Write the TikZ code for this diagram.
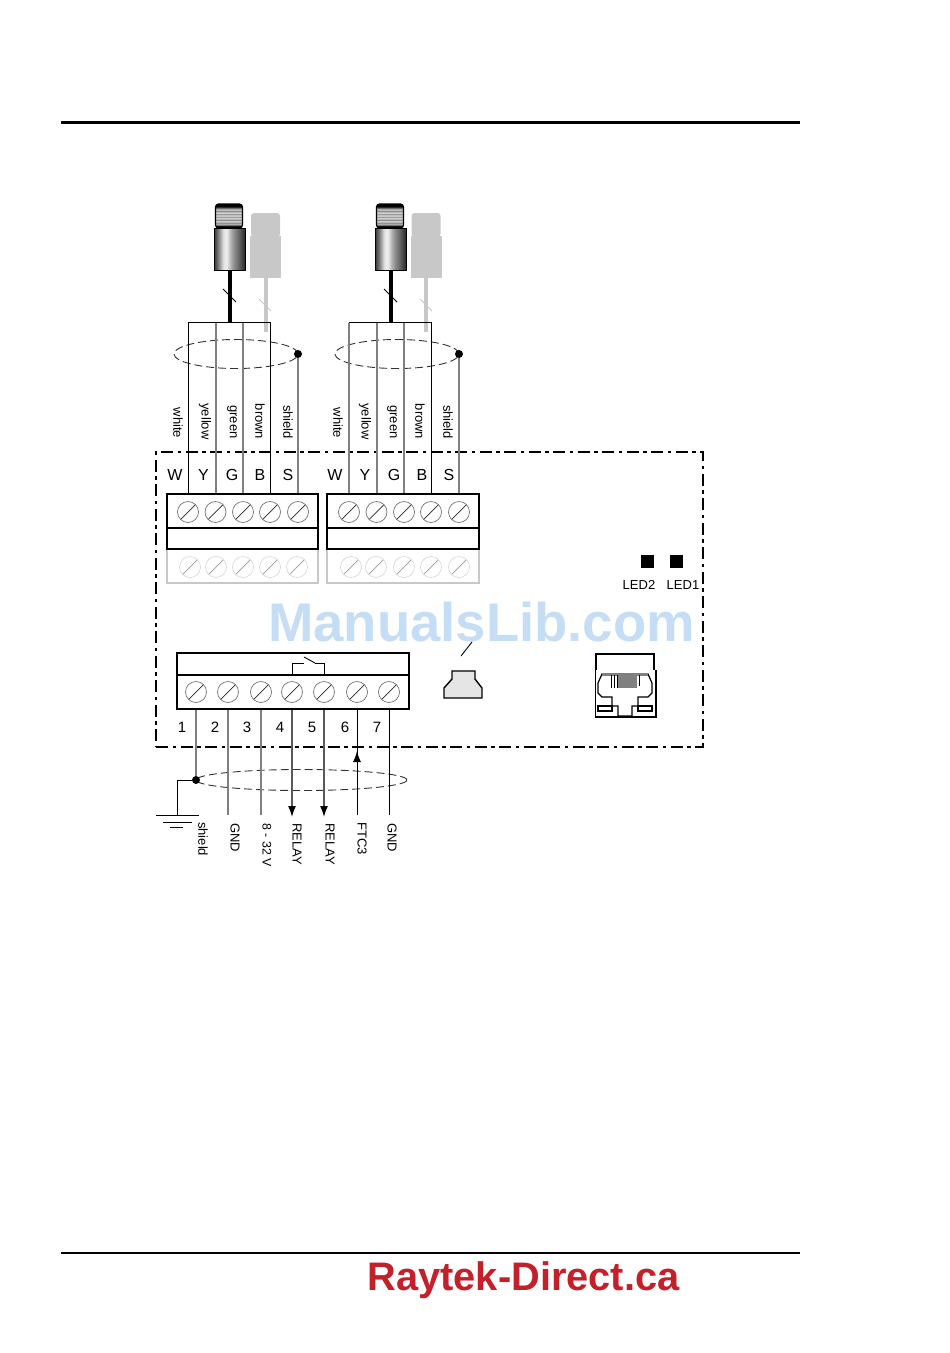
\documentclass[tikz,border=0pt]{standalone}
\usepackage{fontspec}
\setmainfont{Liberation Sans}
\usetikzlibrary{shapes}
\usetikzlibrary{arrows.meta}
\pgfdeclarehorizontalshading{barrel}{50bp}{color(0bp)=(black!90);color(25bp)=(black!80);color(31bp)=(black!55);color(40bp)=(black!12);color(45bp)=(black!6);color(55bp)=(black!40);color(67bp)=(black!65);color(75bp)=(black!85);color(100bp)=(black!90)}
\pgfdeclareverticalshading{thread}{50bp}{color(0bp)=(black);color(29bp)=(black);color(33bp)=(black!20);color(36bp)=(black!50);color(39bp)=(black!8);color(42bp)=(black!50);color(45bp)=(black!8);color(48bp)=(black!50);color(51bp)=(black!8);color(54bp)=(black!50);color(57bp)=(black!8);color(60bp)=(black!50);color(63bp)=(black!15);color(66bp)=(black!50);color(70bp)=(black);color(100bp)=(black)}
\definecolor{ghost}{HTML}{C8C8C8}
\definecolor{wmark}{HTML}{C6DDF6}
\definecolor{brand}{HTML}{C4202A}
\tikzset{
    wireg/.style = {line width=2pt,draw=black!50},
    wirek/.style = {line width=1pt,draw=black},
    wirer/.style = {line width=1.5pt,draw=black!65,-{Latex[length=11pt,width=8pt,black]}},
    cablen/.style = {line width=4pt,draw=black},
    cablel/.style = {line width=4pt,draw=ghost},
    tickn/.style = {line width=1pt,draw=black},
    tickl/.style = {line width=1pt,draw=ghost},
    capn/.style = {rectangle,rounded corners=3pt,draw=black,line width=1.2pt,shading=thread,minimum width=27pt,minimum height=24pt,inner sep=0pt},
    bodyn/.style = {rectangle,draw=black,line width=1pt,shading=barrel,minimum width=31pt,minimum height=42pt,inner sep=0pt},
    capl/.style = {rectangle,rounded corners=3pt,fill=ghost,minimum width=29pt,minimum height=24pt,inner sep=0pt},
    bodyl/.style = {rectangle,fill=ghost,minimum width=31pt,minimum height=42pt,inner sep=0pt},
    shieldn/.style = {ellipse,draw=black!80,line width=0.9pt,dash pattern=on 8pt off 4pt,inner sep=0pt},
    dotn/.style = {circle,fill=black,minimum size=8pt,inner sep=0pt},
    blockn/.style = {rectangle,draw=black,line width=1.8pt,inner sep=0pt},
    blockl/.style = {rectangle,draw=ghost,line width=1.4pt,inner sep=0pt},
    screwn/.style = {circle,draw=black!55,line width=0.7pt,minimum size=21pt,inner sep=0pt,
      path picture={\draw[black!85,line width=0.7pt] (path picture bounding box.south west) -- (path picture bounding box.north east);}},
    screwl/.style = {circle,draw=black!15,line width=0.7pt,minimum size=21pt,inner sep=0pt,
      path picture={\draw[black!40,line width=0.7pt] (path picture bounding box.south west) -- (path picture bounding box.north east);}},
    ledn/.style = {rectangle,fill=black,minimum size=13pt,inner sep=0pt},
    wlabel/.style = {rotate=-90,font=\fontsize{13}{15}\selectfont,inner sep=0pt},
    pinlabel/.style = {font=\fontsize{16}{18}\selectfont,inner sep=0pt},
    numlabel/.style = {font=\fontsize{15}{17}\selectfont,inner sep=0pt},
    ledlabel/.style = {font=\fontsize{13}{15}\selectfont,inner sep=0pt}
}
\begin{document}
\begin{tikzpicture}[x=1pt,y=-1pt]
  \useasboundingbox (0,0) rectangle (950,1353);

  \draw[line width=2.6pt] (61,122.5) -- (800,122.5);
  \draw[line width=2.6pt] (61,1253) -- (800,1253);
  \node[text=wmark,font=\fontsize{54.5}{60}\selectfont\bfseries,inner sep=0pt] (wm) at (481.5,622) {ManualsLib.com};
  \node[text=brand,font=\fontsize{39.8}{44}\selectfont\bfseries,inner sep=0pt] (bd) at (523.5,1280) {Raytek-Direct.ca};

  % housing
  \node[rectangle,draw=black,line width=1.8pt,dash pattern=on 12pt off 4.5pt on 3.5pt off 4.5pt,minimum width=547pt,minimum height=295pt,inner sep=0pt] (box) at (429.5,599.5) {};

  % sensors, ghost ones behind
  \node[capl] (gc1) at (265.5,225) {};
  \node[bodyl] (gb1) at (265.5,257) {};
  \node[capl] (gc2) at (426,225) {};
  \node[bodyl] (gb2) at (426,257) {};
  \node[capn] (cap1) at (229,216) {};
  \node[bodyn] (body1) at (229.5,249) {};
  \node[capn] (cap2) at (390,216) {};
  \node[bodyn] (body2) at (390.5,249) {};
  \coordinate (bus1) at (229.5,322.5);
  \coordinate (bus2) at (390.5,322.5);
  \coordinate (gend1) at (265.5,332);
  \coordinate (gend2) at (426,332);
  \draw[cablel] (gb1.south) -- (gend1);
  \draw[cablel] (gb2.south) -- (gend2);
  \draw[tickl] (259,299) -- (271,311);
  \draw[tickl] (420,299) -- (432,311);
  \draw[cablen] (body1.south) -- (bus1);
  \draw[cablen] (body2.south) -- (bus2);
  \draw[tickn] (223,289) -- (236,302);
  \draw[tickn] (384,289) -- (397,302);

  % terminal blocks
  \node[blockl,minimum width=151pt,minimum height=34pt] (bk1c) at (242.5,566) {};
  \node[blockl,minimum width=152pt,minimum height=34pt] (bk2c) at (403,566) {};
  \node[blockn,minimum width=151pt,minimum height=34pt] (bk1a) at (242.5,511) {};
  \node[blockn,minimum width=151pt,minimum height=21pt] (bk1b) at (242.5,538.5) {};
  \node[blockn,minimum width=152pt,minimum height=34pt] (bk2a) at (403,511) {};
  \node[blockn,minimum width=152pt,minimum height=21pt] (bk2b) at (403,538.5) {};

  \node[screwn] (a1) at (188,512) {};
  \node[screwn] (a2) at (215.5,512) {};
  \node[screwn] (a3) at (243,512) {};
  \node[screwn] (a4) at (270,512) {};
  \node[screwn] (a5) at (298,512) {};
  \node[screwn] (b1) at (349,512) {};
  \node[screwn] (b2) at (376.5,512) {};
  \node[screwn] (b3) at (404,512) {};
  \node[screwn] (b4) at (431,512) {};
  \node[screwn] (b5) at (459,512) {};
  \node[screwl] (c1) at (190,567) {};
  \node[screwl] (c2) at (216,567) {};
  \node[screwl] (c3) at (243,567) {};
  \node[screwl] (c4) at (270,567) {};
  \node[screwl] (c5) at (297,567) {};
  \node[screwl] (d1) at (351,567) {};
  \node[screwl] (d2) at (376,567) {};
  \node[screwl] (d3) at (404,567) {};
  \node[screwl] (d4) at (431,567) {};
  \node[screwl] (d5) at (459,567) {};

  % shield rings and wires
  \node[shieldn,minimum width=124pt,minimum height=29pt] (ring1) at (236,354) {};
  \node[shieldn,minimum width=124pt,minimum height=29pt] (ring2) at (397,354) {};
  \node[dotn] (dot1) at (298,354) {};
  \node[dotn] (dot2) at (459,354) {};

  \draw[wireg] (a2 |- bus1) -- (a2 |- bk1a.north);
  \draw[wireg] (a3 |- bus1) -- (a3 |- bk1a.north);
  \draw[wireg] (dot1) -- (a5 |- bk1a.north);
  \draw[wirek] (a1 |- bk1a.north) -- (a1 |- bus1) -- (a4 |- bus1) -- (a4 |- bk1a.north);
  \draw[wireg] (b2 |- bus2) -- (b2 |- bk2a.north);
  \draw[wireg] (b3 |- bus2) -- (b3 |- bk2a.north);
  \draw[wireg] (dot2) -- (b5 |- bk2a.north);
  \draw[wirek] (b4 |- bk2a.north) -- (b4 |- bus2) -- (b1 |- bus2);
  \draw[wireg] (b1 |- bus2) -- (b1 |- bk2a.north);

  \node[wlabel] (w1) at (178,423) {white};
  \node[wlabel] (y1) at (205,421.5) {yellow};
  \node[wlabel] (g1) at (232,422) {green};
  \node[wlabel] (n1) at (260,421.5) {brown};
  \node[wlabel] (s1) at (288,422) {shield};
  \node[wlabel] (w2) at (338,423) {white};
  \node[wlabel] (y2) at (365,421.5) {yellow};
  \node[wlabel] (g2) at (392,422) {green};
  \node[wlabel] (n2) at (420,421.5) {brown};
  \node[wlabel] (s2) at (448,422) {shield};

  \node[pinlabel] (pw1) at (175,475) {W};
  \node[pinlabel] (py1) at (203.5,475) {Y};
  \node[pinlabel] (pg1) at (232,475) {G};
  \node[pinlabel] (pb1) at (260,475) {B};
  \node[pinlabel] (ps1) at (288,475) {S};
  \node[pinlabel] (pw2) at (335,475) {W};
  \node[pinlabel] (py2) at (365,475) {Y};
  \node[pinlabel] (pg2) at (394,475) {G};
  \node[pinlabel] (pb2) at (422,475) {B};
  \node[pinlabel] (ps2) at (449,475) {S};

  % leds
  \node[ledn] (led2) at (647.5,561) {};
  \node[ledn] (led1) at (676.5,561) {};
  \node[ledlabel] (tled2) at (639,585) {LED2};
  \node[ledlabel] (tled1) at (683,585) {LED1};

  % power block
  \node[blockn,minimum width=232pt,minimum height=22pt] (rb1) at (293,664) {};
  \node[blockn,minimum width=232pt,minimum height=34pt] (rb2) at (293,692) {};
  \node[screwn] (r1) at (196,692) {};
  \node[screwn] (r2) at (228,692) {};
  \node[screwn] (r3) at (261,692) {};
  \node[screwn] (r4) at (292,692) {};
  \node[screwn] (r5) at (324,692) {};
  \node[screwn] (r6) at (357,692) {};
  \node[screwn] (r7) at (389,692) {};
  \coordinate (swl) at (304,663);
  \coordinate (swr) at (315,663);
  \draw[line width=0.9pt] (r4 |- rb2.north) -- (r4 |- swl) -- (swl);
  \draw[line width=0.9pt] (304,657) -- (swr);
  \draw[line width=0.9pt] (r5 |- rb2.north) -- (r5 |- swr) -- (swr);

  \node[numlabel] (n1t) at (182,727) {1};
  \node[numlabel] (n2t) at (215,727) {2};
  \node[numlabel] (n3t) at (247,727) {3};
  \node[numlabel] (n4t) at (280,727) {4};
  \node[numlabel] (n5t) at (312,727) {5};
  \node[numlabel] (n6t) at (345,727) {6};
  \node[numlabel] (n7t) at (377,727) {7};

  \node[shieldn,minimum width=211pt,minimum height=21pt] (ring3) at (301.5,780) {};
  \node[dotn] (dot3) at (196,780) {};
  \coordinate (gnd) at (177,815);
  \coordinate (e2) at (228,815);
  \coordinate (e3) at (261,815);
  \coordinate (e4) at (292,817);
  \coordinate (e5) at (324,817);
  \coordinate (e6) at (357,815);
  \coordinate (e7) at (389,815);
  \coordinate (tip6) at (357,751);
  \draw[wireg] (r1 |- rb2.south) -- (dot3);
  \draw[wirek] (dot3) -| (gnd);
  \draw[wireg] (r2 |- rb2.south) -- (e2);
  \draw[wireg] (r3 |- rb2.south) -- (e3);
  \draw[wirer] (r4 |- rb2.south) -- (e4);
  \draw[wirer] (r5 |- rb2.south) -- (e5);
  \draw[wirek] (e6) -- (r6 |- rb2.south);
  \draw[wirek,-{Latex[length=11pt,width=8pt]}] (e6) -- (tip6);
  \draw[wirek] (r7 |- rb2.south) -- (e7);

  % ground
  \draw[line width=1pt] (156,815) -- (199,815);
  \draw[line width=1pt] (163,822) -- (192,822);
  \draw[line width=1pt] (170,827) -- (183,827);

  \node[wlabel,anchor=west] (l1) at (203,822) {shield};
  \node[wlabel,anchor=west] (l2) at (235,823) {GND};
  \node[wlabel,anchor=west,font=\fontsize{12.4}{15}\selectfont] (l3) at (267,823) {8 - 32 V};
  \node[wlabel,anchor=west] (l4) at (297,823) {RELAY};
  \node[wlabel,anchor=west] (l5) at (330,823) {RELAY};
  \node[wlabel,anchor=west] (l6) at (362,822) {FTC3};
  \node[wlabel,anchor=west] (l7) at (392,823) {GND};

  % service port
  \draw[line width=0.9pt] (472,642) -- (461,656);
  \draw[line width=1.4pt,fill=black!10] (452,671) -- (475,671) -- (475,679) -- (482,688) -- (482,698) -- (444,698) -- (444,688) -- (452,679) -- cycle;

  % rj45 jack
  \draw[line width=1.6pt] (596,670) -- (596,654) -- (654,654) -- (654,670);
  \draw[line width=1.6pt] (595.5,670) -- (595.5,717) -- (656,717) -- (656,670);
  \draw[line width=1.2pt] (602,674) -- (648,674) -- (652,683) -- (652,693) -- (648,697) -- (638,697) -- (638,706) -- (632,706) -- (632,716) -- (618,716) -- (618,706) -- (612,706) -- (612,697) -- (602,697) -- (598,693) -- (598,683) -- cycle;
  \draw[line width=1.4pt] (598,706) rectangle (612,711);
  \draw[line width=1.4pt] (638,706) rectangle (652,711);
  \fill[black!50] (602,673) rectangle (648,676);
  \fill[black!50] (618,675) rectangle (637,688);
  \draw[line width=1pt] (611,675) -- (611,688);
  \draw[line width=1pt] (614,675) -- (614,688);
  \draw[line width=1pt] (617,675) -- (617,688);
  \draw[line width=1pt] (639,675) -- (639,686);
\end{tikzpicture}
\end{document}
